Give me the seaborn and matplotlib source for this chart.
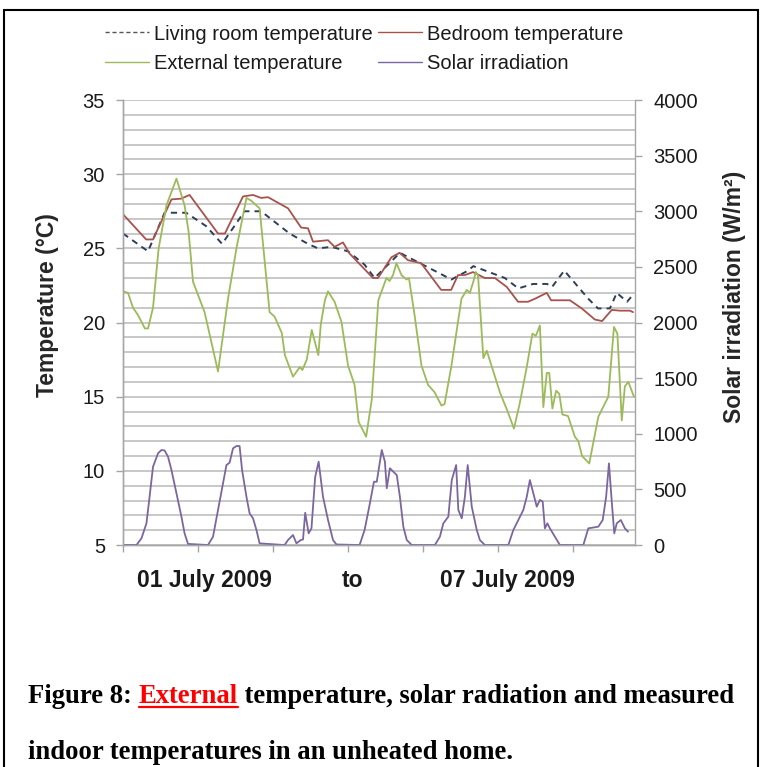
import pandas as pd
import matplotlib.pyplot as plt
import seaborn as sns
from matplotlib.ticker import MultipleLocator
from matplotlib.lines import Line2D
from matplotlib.patches import Rectangle

# (hours since start of 01 July 2009, value)
living_room = [(0, 26.0), (8.0, 24.8), (13.3, 27.4), (20.2, 27.4), (26.6, 26.5), (31.7, 25.3),
               (38.9, 27.5), (44.2, 27.5), (53.3, 26.0), (59.2, 25.3), (62.4, 25.0), (66.7, 25.1),
               (72.0, 24.8), (77.3, 23.9), (80.5, 23.0), (88.6, 24.7), (105.1, 22.9), (110.4, 23.5),
               (112.1, 23.8), (122.2, 23.0), (126.5, 22.3), (131.2, 22.6), (135.7, 22.6), (137.3, 22.4),
               (141.2, 23.5), (148.9, 21.6), (152.0, 20.95), (155.8, 20.95), (158.0, 22.0),
               (161.3, 21.4), (162.9, 21.8)]

bedroom = [(0, 27.3), (7.4, 25.6), (9.6, 25.6), (15.5, 28.3), (18.6, 28.35), (21.3, 28.6),
           (30.4, 26.0), (32.6, 26.0), (38.4, 28.5), (41.6, 28.6), (44.2, 28.4), (46.4, 28.45),
           (52.8, 27.7), (57.0, 26.4), (59.2, 26.35), (60.8, 25.45), (65.6, 25.55), (67.7, 25.1),
           (70.4, 25.4), (72.5, 24.65), (80.0, 23.0), (81.6, 23.0), (85.9, 24.4), (88.5, 24.7),
           (91.2, 24.2), (95.4, 24.0), (98.6, 23.1), (101.8, 22.2), (105.0, 22.2), (107.2, 23.2),
           (109.4, 23.2), (112.0, 23.4), (115.8, 23.0), (119.0, 23.0), (122.8, 22.4), (126.4, 21.4),
           (129.6, 21.4), (131.8, 21.6), (135.6, 22.0), (137.0, 21.5), (140.5, 21.5), (143.0, 21.5),
           (146.8, 20.95), (151.0, 20.2), (153.3, 20.1), (156.4, 20.85), (159.0, 20.8),
           (162.2, 20.8), (163.2, 20.7)]

external = [(0, 22.1), (1.6, 22.0), (3.2, 21.0), (4.8, 20.5), (7.0, 19.6), (8.0, 19.6), (9.6, 21.0),
            (11.4, 25.0), (13.9, 27.9), (17.1, 29.7), (19.7, 27.9), (21.0, 26.1), (22.4, 22.75),
            (26.1, 20.7), (30.4, 16.7), (33.6, 21.6), (36.3, 25.0), (39.5, 28.4), (41.1, 28.2),
            (43.7, 27.7), (46.9, 20.7), (48.5, 20.4), (50.8, 19.3), (51.8, 17.8), (54.4, 16.35),
            (56.6, 17.0), (57.4, 16.8), (58.8, 17.5), (60.4, 19.5), (62.5, 17.8), (63.3, 19.9),
            (64.6, 21.5), (65.6, 22.1), (67.7, 21.4), (69.9, 20.05), (72.0, 17.1), (74.1, 15.8),
            (75.4, 13.3), (77.8, 12.3), (79.6, 14.8), (81.7, 21.5), (84.3, 23.0), (85.3, 22.8),
            (86.4, 23.2), (87.5, 24.0), (89.1, 23.2), (90.7, 22.9), (91.5, 23.0), (93.3, 20.5),
            (95.5, 17.1), (97.6, 15.8), (99.7, 15.3), (101.9, 14.4), (102.9, 14.5), (105.1, 17.1),
            (108.3, 21.6), (110.0, 22.2), (111.0, 22.0), (112.1, 22.75), (112.9, 23.4), (113.6, 23.2),
            (115.3, 17.6), (116.4, 18.1), (118.5, 16.7), (120.6, 15.3), (122.9, 14.1), (125.1, 12.85),
            (127.0, 14.6), (129.2, 17.0), (131.0, 19.25), (132.1, 19.1), (133.4, 19.8), (134.5, 14.3),
            (135.6, 16.6), (136.4, 16.6), (137.4, 14.2), (138.6, 15.4), (139.6, 15.2), (140.6, 13.8),
            (142.4, 13.7), (144.6, 12.3), (145.7, 12.0), (146.9, 11.0), (149.2, 10.5), (152.1, 13.65),
            (155.3, 15.0), (157.1, 19.7), (158.2, 19.25), (159.6, 13.4), (160.6, 15.7), (161.7, 16.0),
            (163.5, 15.0)]

solar = [(0, 0), (4.3, 0), (5.9, 60), (7.5, 195), (8.5, 434), (9.6, 704), (11.2, 824), (12.3, 854),
         (13.3, 850), (14.4, 794), (15.5, 674), (17.1, 465), (18.7, 254), (19.7, 105), (20.8, 10),
         (27.2, 0), (28.8, 75), (30.4, 315), (32.0, 555), (33.1, 719), (34.1, 740), (35.2, 869),
         (36.3, 890), (37.3, 890), (38.1, 674), (39.5, 434), (40.5, 285), (41.6, 240), (42.7, 135),
         (43.7, 15), (51.7, 0), (52.8, 45), (54.4, 90), (55.5, 15), (56.9, 45), (57.6, 50),
         (58.3, 290), (59.4, 105), (60.3, 150), (61.5, 614), (62.6, 749), (64.0, 434), (65.6, 225),
         (67.2, 45), (68.3, 5), (75.7, 0), (77.3, 135), (78.9, 360), (80.3, 569), (81.2, 569),
         (82.8, 854), (83.8, 749), (84.4, 510), (85.4, 690), (86.5, 659), (87.6, 629), (88.6, 434),
         (89.7, 165), (90.8, 45), (92.4, 0), (99.8, 0), (101.4, 75), (102.5, 195), (104.1, 255),
         (105.2, 584), (106.6, 719), (107.3, 315), (108.4, 240), (109.4, 434), (110.3, 719),
         (111.6, 345), (113.2, 135), (114.2, 45), (115.8, 0), (123.3, 0), (124.9, 135), (126.5, 225),
         (128.1, 315), (129.2, 434), (130.2, 584), (131.3, 465), (132.4, 345), (133.4, 405),
         (134.3, 390), (135.0, 150), (135.8, 195), (136.6, 150), (138.2, 75), (139.8, 0),
         (147.3, 0), (148.9, 150), (150.0, 155), (152.1, 165), (153.5, 225), (154.6, 434),
         (155.5, 734), (156.4, 390), (157.2, 105), (158.0, 195), (159.3, 225), (160.6, 150),
         (161.6, 120)]

date_labels = ["01 July 2009", "to", "07 July 2009"]
date_label_hours = [25.9, 73.3, 122.9]

living_df = pd.DataFrame(living_room, columns=["hour", "value"])
bedroom_df = pd.DataFrame(bedroom, columns=["hour", "value"])
external_df = pd.DataFrame(external, columns=["hour", "value"])
solar_df = pd.DataFrame(solar, columns=["hour", "value"])

sns.set_theme(style="white")
plt.rcParams['font.family'] = ['Liberation Sans', 'DejaVu Sans']

grey = '#a6a6a6'
fig = plt.figure(figsize=(7.66, 7.67), dpi=100)
ax = fig.add_axes([0.1606, 0.2894, 0.6684, 0.5802])
ax2 = ax.twinx()

sns.lineplot(data=living_df, x="hour", y="value", ax=ax, color='#2d3f58', lw=1.4,
             linestyle=(0, (3.2, 2.6)), legend=False)
sns.lineplot(data=bedroom_df, x="hour", y="value", ax=ax, color='#a8524c', lw=1.3, legend=False)
sns.lineplot(data=external_df, x="hour", y="value", ax=ax, color='#9bbb59', lw=1.3, legend=False)
sns.lineplot(data=solar_df, x="hour", y="value", ax=ax2, color='#7b66a0', lw=1.3, legend=False)

ax.set_xlim(0, 163.84)
ax.set_ylim(5, 35)
ax2.set_ylim(0, 4000)
ax.set_yticks(range(5, 36, 5))
ax.yaxis.set_minor_locator(MultipleLocator(1))
ax2.set_yticks(range(0, 4001, 500))
ax.set_xticks(range(0, 145, 24))
ax.set_xticklabels([])
ax.set_xlabel('')
ax.grid(axis='y', which='both', color='#c4c4c4', lw=1.3)
ax.set_axisbelow(True)
ax2.grid(False)

for a in (ax, ax2):
    for s in a.spines.values():
        s.set_color(grey)
        s.set_linewidth(1.0)
    a.spines['top'].set_visible(False)
ax.spines['right'].set_visible(False)

ax.tick_params(axis='y', which='major', left=True, length=5, width=1, color=grey,
               pad=8, labelsize=14.5, labelcolor='#1a1a1a')
ax.tick_params(axis='y', which='minor', left=False, length=0)
ax.tick_params(axis='x', bottom=True, length=5, width=1, color=grey)
ax2.tick_params(axis='y', right=True, length=5, width=1, color=grey,
                pad=8, labelsize=14.5, labelcolor='#1a1a1a')

ax.set_ylabel('Temperature (°C)', fontweight='bold', fontsize=16.5, va='center')
ax.yaxis.set_label_coords(-0.148, 0.539)
ax2.set_ylabel('Solar irradiation (W/m²)', fontweight='bold', fontsize=16.5, va='center')
ax2.yaxis.set_label_coords(1.195, 0.557)

for lab, h in zip(date_labels, date_label_hours):
    ax.text(h, -0.079, lab, transform=ax.get_xaxis_transform(), ha='center', va='center',
            fontweight='bold', fontsize=16.5, color='#1a1a1a')

handles = [Line2D([], [], color='#555555', lw=1.0, linestyle=(0, (3, 2))),
           Line2D([], [], color='#9bbb59', lw=1.0),
           Line2D([], [], color='#a8524c', lw=1.0),
           Line2D([], [], color='#7b66a0', lw=1.0)]
labels = ['Living room temperature', 'External temperature',
          'Bedroom temperature', 'Solar irradiation']
fig.legend(handles, labels, loc='upper left', bbox_to_anchor=(0.137, 0.968), ncol=2,
           frameon=False, handlelength=2.2, handletextpad=0.25, columnspacing=0.25,
           borderaxespad=0, borderpad=0, labelspacing=0.5, fontsize=14.5,
           labelcolor='#1a1a1a')

# figure caption below the chart, with the underlined red word
serif = dict(family='Liberation Serif', fontweight='bold', fontsize=19.2)
fig.canvas.draw()
renderer = fig.canvas.get_renderer()
x0 = 28 / 766
y0 = 1 - 703 / 767
parts = [("Figure 8: ", 'black'), ("External", 'red'),
         (" temperature, solar radiation and measured", 'black')]
for txt, col in parts:
    t = fig.text(x0, y0, txt, color=col, va='baseline', ha='left', **serif)
    bb = t.get_window_extent(renderer).transformed(fig.transFigure.inverted())
    if col == 'red':
        fig.add_artist(Line2D([bb.x0, bb.x1], [y0 - 4 / 767, y0 - 4 / 767], color='red', lw=1.6,
                              transform=fig.transFigure))
    x0 = bb.x1
fig.text(28 / 766, 1 - 759 / 767, "indoor temperatures in an unheated home.", color='black',
         va='baseline', ha='left', **serif)

fig.add_artist(Rectangle((4 / 766, -0.1), 754 / 766, 1.1 - 10 / 767, transform=fig.transFigure,
                         fill=False, ec='black', lw=1.5))

fig.savefig('out.png', dpi=100)
